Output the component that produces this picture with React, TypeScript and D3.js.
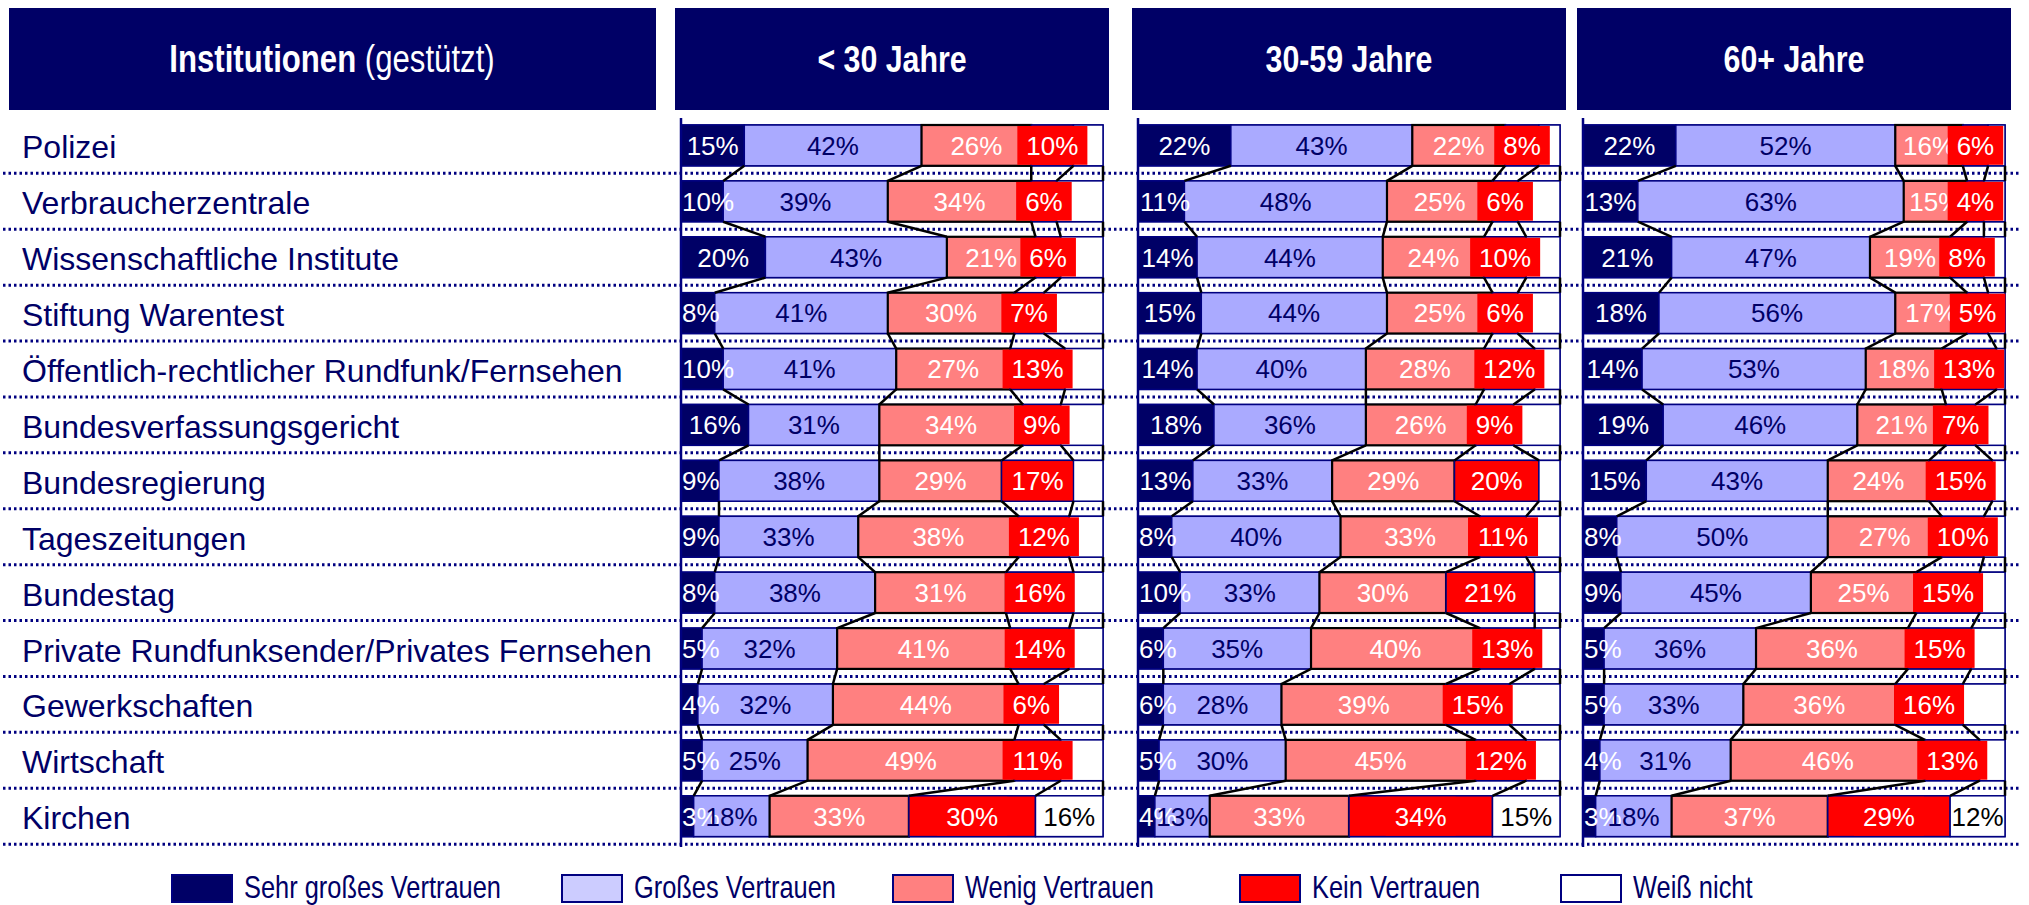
import React from "react";
import * as d3 from "d3";

const categories = [
  "Polizei",
  "Verbraucherzentrale",
  "Wissenschaftliche Institute",
  "Stiftung Warentest",
  "Öffentlich-rechtlicher Rundfunk/Fernsehen",
  "Bundesverfassungsgericht",
  "Bundesregierung",
  "Tageszeitungen",
  "Bundestag",
  "Private Rundfunksender/Privates Fernsehen",
  "Gewerkschaften",
  "Wirtschaft",
  "Kirchen",
];

const ageGroups = ["< 30 Jahre", "30-59 Jahre", "60+ Jahre"];
const seriesNames = ["Sehr großes Vertrauen", "Großes Vertrauen", "Wenig Vertrauen", "Kein Vertrauen", "Weiß nicht"];

// < 30 Jahre
const u30Sehr = [15, 10, 20, 8, 10, 16, 9, 9, 8, 5, 4, 5, 3];
const u30Gross = [42, 39, 43, 41, 41, 31, 38, 33, 38, 32, 32, 25, 18];
const u30Wenig = [26, 34, 21, 30, 27, 34, 29, 38, 31, 41, 44, 49, 33];
const u30Kein = [10, 6, 6, 7, 13, 9, 17, 12, 16, 14, 6, 11, 30];
const u30Weiss = [7, 11, 10, 14, 9, 10, 7, 8, 7, 8, 14, 10, 16];

// 30-59 Jahre
const m30Sehr = [22, 11, 14, 15, 14, 18, 13, 8, 10, 6, 6, 5, 4];
const m30Gross = [43, 48, 44, 44, 40, 36, 33, 40, 33, 35, 28, 30, 13];
const m30Wenig = [22, 25, 24, 25, 28, 26, 29, 33, 30, 40, 39, 45, 33];
const m30Kein = [8, 6, 10, 6, 12, 9, 20, 11, 21, 13, 15, 12, 34];
const m30Weiss = [5, 10, 8, 10, 6, 11, 5, 8, 6, 6, 12, 8, 15];

// 60+ Jahre
const o60Sehr = [22, 13, 21, 18, 14, 19, 15, 8, 9, 5, 5, 4, 3];
const o60Gross = [52, 63, 47, 56, 53, 46, 43, 50, 45, 36, 33, 31, 18];
const o60Wenig = [16, 15, 19, 17, 18, 21, 24, 27, 25, 36, 36, 46, 37];
const o60Kein = [6, 4, 8, 5, 13, 7, 15, 10, 15, 15, 16, 13, 29];
const o60Weiss = [4, 5, 5, 4, 2, 7, 3, 5, 6, 8, 10, 6, 12];

const NAVY = "#000066";
const NAVY_LINE = "#000080";
const barColors = [NAVY, "#AAAAFF", "#FF8080", "#FF0000", "#FFFFFF"];
const legendColors = [NAVY, "#CCCCFF", "#FF8080", "#FF0000", "#FFFFFF"];
const labelColors = ["#FFFFFF", NAVY, "#FFFFFF", "#FFFFFF", "#000000"];

const SANS = "'Liberation Sans', Arial, sans-serif";
const NARROW_SCALE = 0.82;

const W = 2029;
const H = 905;
const LABEL_FS = 26;

function textW(label: string, fs: number) {
  let w = 0;
  for (const c of label) w += c === "%" ? 0.889 : 0.556;
  return w * fs;
}

export default function App() {
  const panels = [
    { title: ageGroups[0], x0: 681, series: [u30Sehr, u30Gross, u30Wenig, u30Kein, u30Weiss] },
    { title: ageGroups[1], x0: 1138, series: [m30Sehr, m30Gross, m30Wenig, m30Kein, m30Weiss] },
    { title: ageGroups[2], x0: 1583, series: [o60Sehr, o60Gross, o60Wenig, o60Kein, o60Weiss] },
  ];
  const panelW = 422;

  const y = d3
    .scaleBand<string>()
    .domain(categories)
    .range([117.45, 844.15])
    .paddingInner(0.27)
    .paddingOuter(0.135);
  const bw = y.bandwidth();
  const step = y.step();
  const gridYs = categories.map((c) => (y(c) as number) + bw + (step - bw) / 2);

  return (
    <svg
      width={W}
      height={H}
      style={{ position: "absolute", left: 0, top: 0, background: "#fff" }}
      xmlns="http://www.w3.org/2000/svg"
    >
      <rect x={0} y={0} width={W} height={H} fill="#fff" />
      {/* headers */}
      <rect x={9} y={8} width={647} height={102} fill={NAVY} />
      <text
        transform={`translate(332,59) scale(${NARROW_SCALE},1)`}
        dy="0.35em"
        textAnchor="middle"
        fill="#fff"
        fontFamily={SANS}
        fontSize={38}
      >
        <tspan fontWeight="bold">Institutionen</tspan>
        <tspan> (gestützt)</tspan>
      </text>
      {panels.map((p) => (
        <g key={p.title}>
          <rect x={p.x0 - 6} y={8} width={panelW + 12} height={102} fill={NAVY} />
          <text
            transform={`translate(${p.x0 + panelW / 2},59) scale(${NARROW_SCALE},1)`}
            dy="0.35em"
            textAnchor="middle"
            fill="#fff"
            fontFamily={SANS}
            fontWeight="bold"
            fontSize={37}
          >
            {p.title}
          </text>
        </g>
      ))}

      {/* dotted grid lines */}
      {gridYs.map((gy, i) => (
        <line
          key={"g" + i}
          x1={3}
          x2={2021}
          y1={gy}
          y2={gy}
          stroke={NAVY_LINE}
          strokeWidth={3}
          strokeDasharray="2.5 3"
        />
      ))}

      {/* row labels */}
      {categories.map((c) => (
        <text
          key={"l" + c}
          x={22}
          y={(y(c) as number) + bw / 2 + 1.5}
          dy="0.36em"
          fill={NAVY}
          fontFamily={SANS}
          fontSize={32}
        >
          {c}
        </text>
      ))}

      {panels.map((p) => {
        const x = d3.scaleLinear().domain([0, 100]).range([p.x0, p.x0 + panelW]);
        const cum = p.series.map((_, s) =>
          categories.map((_, i) => {
            let t = 0;
            for (let k = 0; k < s; k++) t += p.series[k][i];
            return t;
          })
        );
        const bounds = [1, 2, 3, 4].map((k) => categories.map((_, i) => cum[k][i]));
        return (
          <g key={"p" + p.title}>
            {categories.map((c, i) => {
              const yy = y(c) as number;
              return (
                <g key={"b" + i}>
                  <rect
                    x={x(0)}
                    y={yy}
                    width={x(100) - x(0)}
                    height={bw}
                    fill="#fff"
                    stroke={NAVY_LINE}
                    strokeWidth={1.5}
                  />
                  {p.series.map((arr, s) => {
                    const x1 = x(cum[s][i]);
                    const x2 = s === 4 ? x(100) : x(cum[s][i] + arr[i]);
                    return (
                      <rect
                        key={s}
                        x={x1}
                        y={yy}
                        width={Math.max(0, x2 - x1)}
                        height={bw}
                        fill={barColors[s]}
                        stroke={s === 2 ? "#000" : NAVY_LINE}
                        strokeWidth={s === 2 ? 2.2 : 1.5}
                      />
                    );
                  })}
                </g>
              );
            })}
            {/* series lines */}
            {[...bounds, categories.map(() => 100)].map((b, k) =>
              categories.slice(0, -1).map((c, i) => {
                const yb = (y(c) as number) + bw;
                const yt = y(categories[i + 1]) as number;
                return (
                  <line
                    key={"s" + k + "-" + i}
                    x1={x(b[i])}
                    y1={yb}
                    x2={x(b[i + 1])}
                    y2={yt}
                    stroke="#000"
                    strokeWidth={2.5}
                  />
                );
              })
            )}
            {/* axis */}
            <line x1={x(0)} x2={x(0)} y1={118} y2={847} stroke={NAVY_LINE} strokeWidth={2.5} />
            {/* labels */}
            {p.series.map((arr, s) =>
              categories.map((c, i) => {
                if (s === 4 && i !== categories.length - 1) return null;
                const v = arr[i];
                const label = v + "%";
                const tw = textW(label, LABEL_FS);
                let cx = x(cum[s][i] + v / 2);
                if (s === 4) cx = (x(cum[s][i]) + x(100)) / 2;
                cx = Math.max(cx, x(0) + tw / 2 + 1);
                const yy = (y(c) as number) + bw / 2;
                return (
                  <g key={"t" + s + "-" + i}>
                    {s === 3 && (
                      <rect
                        x={cx - tw / 2 - 9}
                        y={(y(c) as number) + 1}
                        width={tw + 18}
                        height={bw - 2}
                        fill="#FF0000"
                      />
                    )}
                    <text
                      x={cx}
                      y={yy}
                      dy="0.36em"
                      textAnchor="middle"
                      fill={labelColors[s]}
                      fontFamily={SANS}
                      fontSize={LABEL_FS}
                    >
                      {label}
                    </text>
                  </g>
                );
              })
            )}
          </g>
        );
      })}

      {/* legend */}
      {seriesNames.map((n, i) => {
        const lx = [172, 562, 893, 1240, 1561][i];
        return (
          <g key={"lg" + i}>
            <rect x={lx} y={875} width={60} height={27} fill={legendColors[i]} stroke={NAVY_LINE} strokeWidth={2} />
            <text
              transform={`translate(${lx + 72},887) scale(${NARROW_SCALE},1)`}
              dy="0.36em"
              fill={NAVY}
              fontFamily={SANS}
              fontSize={31}
            >
              {n}
            </text>
          </g>
        );
      })}
    </svg>
  );
}
